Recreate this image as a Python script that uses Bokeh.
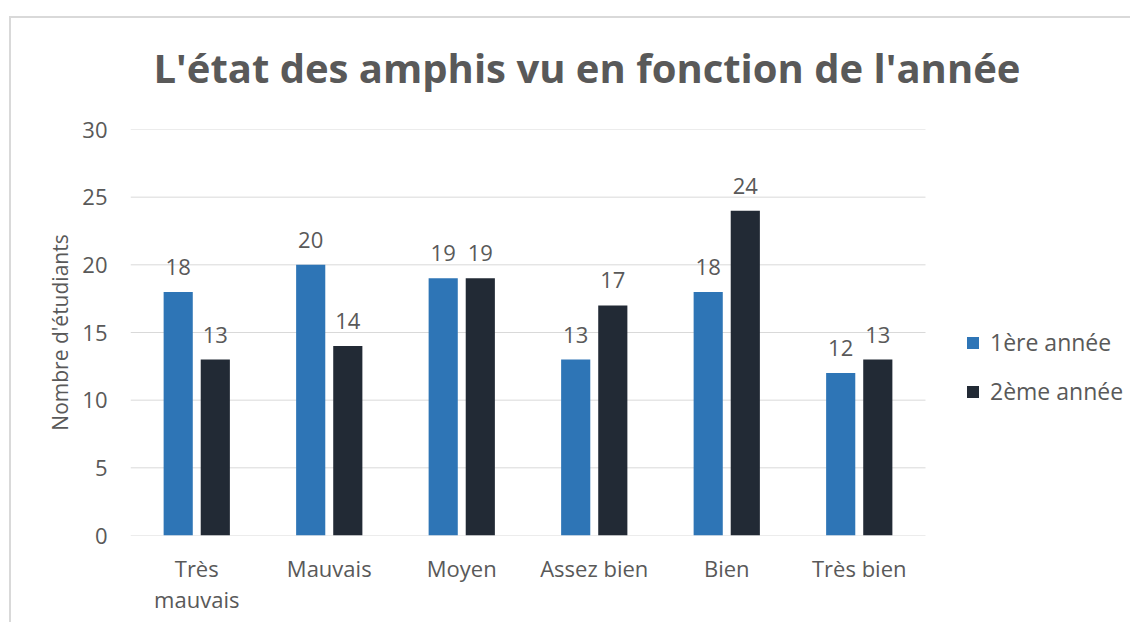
from bokeh.plotting import figure
from bokeh.models import ColumnDataSource, LabelSet, Legend, LegendItem, Range1d, FixedTicker
from bokeh.core.properties import value
from bokeh.embed import file_html
from bokeh.resources import INLINE

categories = ["Très\nmauvais", "Mauvais", "Moyen", "Assez bien", "Bien", "Très bien"]
annee1 = [18, 20, 19, 13, 18, 12]
annee2 = [13, 14, 19, 17, 24, 13]
series_names = ["1ère année", "2ème année"]
y_ticks = [0, 5, 10, 15, 20, 25, 30]

BLUE = "#2E75B6"
DARK = "#222A35"
TEXT = "#595959"
GRID = "#D9D9D9"
FONT = "Open Sans"

# layout constants (pixels)
W, H = 1130, 622
LEFT, TOP, BOTTOM = 130, 129, 87
CAT_AREA_W = 795          # width occupied by the categories
FRAME_W = W - LEFT
OFF, BAR_W = 0.14, 0.22

n = len(categories)
idx = list(range(n))
source = ColumnDataSource(dict(
    x1=[i - OFF for i in idx], x2=[i + OFF for i in idx],
    a1=annee1, a2=annee2,
    l1=[str(v) for v in annee1], l2=[str(v) for v in annee2]))

x_end = -0.5 + n * FRAME_W / CAT_AREA_W
p = figure(width=W, height=H, x_range=Range1d(-0.5, x_end), y_range=Range1d(0, 30),
           output_backend="svg", toolbar_location=None,
           min_border_left=LEFT, min_border_right=0, min_border_top=TOP, min_border_bottom=BOTTOM)
p.border_fill_color = None
p.background_fill_color = None
p.styles = {
    "background-image": "linear-gradient(#D9D9D9, #D9D9D9), linear-gradient(#D9D9D9, #D9D9D9)",
    "background-size": "100% 2px, 2px 100%",
    "background-position": "9px 16px, 9px 16px",
    "background-repeat": "no-repeat",
}

# horizontal grid lines limited to the category area
grid_src = ColumnDataSource(dict(y=y_ticks, x0=[-0.5] * len(y_ticks), x1=[n - 0.5] * len(y_ticks)))
p.segment(x0="x0", x1="x1", y0="y", y1="y", source=grid_src, line_color=GRID, line_width=1)

r1 = p.vbar(x="x1", top="a1", width=BAR_W, source=source, fill_color=BLUE, line_color=None)
r2 = p.vbar(x="x2", top="a2", width=BAR_W, source=source, fill_color=DARK, line_color=None)

for xk, key, lab in (("x1", "a1", "l1"), ("x2", "a2", "l2")):
    ls = LabelSet(x=xk, y=key, text=lab, source=source,
                  y_offset=17, text_align="center", text_baseline="alphabetic",
                  text_font=value(FONT), text_font_size=value("22px"), text_color=TEXT)
    p.add_layout(ls)

p.title.text = "L'état des amphis vu en fonction de l'année"
p.title.text_font = FONT
p.title.text_font_size = "40px"
p.title.text_font_style = "bold"
p.title.text_color = TEXT
p.title.align = "left"
p.title.offset = 23
p.title.standoff = 69

p.xgrid.grid_line_color = None
p.ygrid.grid_line_color = None
p.outline_line_color = None

p.yaxis.ticker = y_ticks
p.yaxis.axis_line_color = None
p.yaxis.major_tick_line_color = None
p.yaxis.minor_tick_line_color = None
p.yaxis.major_label_standoff = 17
p.yaxis.major_label_text_font = FONT
p.yaxis.major_label_text_font_size = "22px"
p.yaxis.major_label_text_color = TEXT
p.yaxis.axis_label = "Nombre d'étudiants"
p.yaxis.axis_label_text_font = FONT
p.yaxis.axis_label_text_font_size = "21px"
p.yaxis.axis_label_text_font_style = "normal"
p.yaxis.axis_label_text_color = TEXT
p.yaxis.axis_label_standoff = 5

p.xaxis.ticker = FixedTicker(ticks=idx)
p.xaxis.major_label_overrides = {i: c for i, c in zip(idx, categories)}
p.xaxis.axis_line_color = None
p.xaxis.major_tick_line_color = None
p.xaxis.minor_tick_line_color = None
p.xaxis.major_label_standoff = 11
p.xaxis.major_label_text_font = FONT
p.xaxis.major_label_text_font_size = "22px"
p.xaxis.major_label_text_line_height = 1.05
p.xaxis.major_label_text_color = TEXT

legend = Legend(items=[LegendItem(label=series_names[0], renderers=[r1]),
                       LegendItem(label=series_names[1], renderers=[r2])],
                location=(835, 128), orientation="vertical",
                glyph_width=15, glyph_height=15, spacing=17, padding=0, margin=0,
                label_text_font=FONT, label_text_font_size="23px", label_text_color=TEXT,
                label_standoff=10, border_line_color=None, background_fill_alpha=0)
p.add_layout(legend)

open("out.html", "w").write(file_html(p, INLINE))
